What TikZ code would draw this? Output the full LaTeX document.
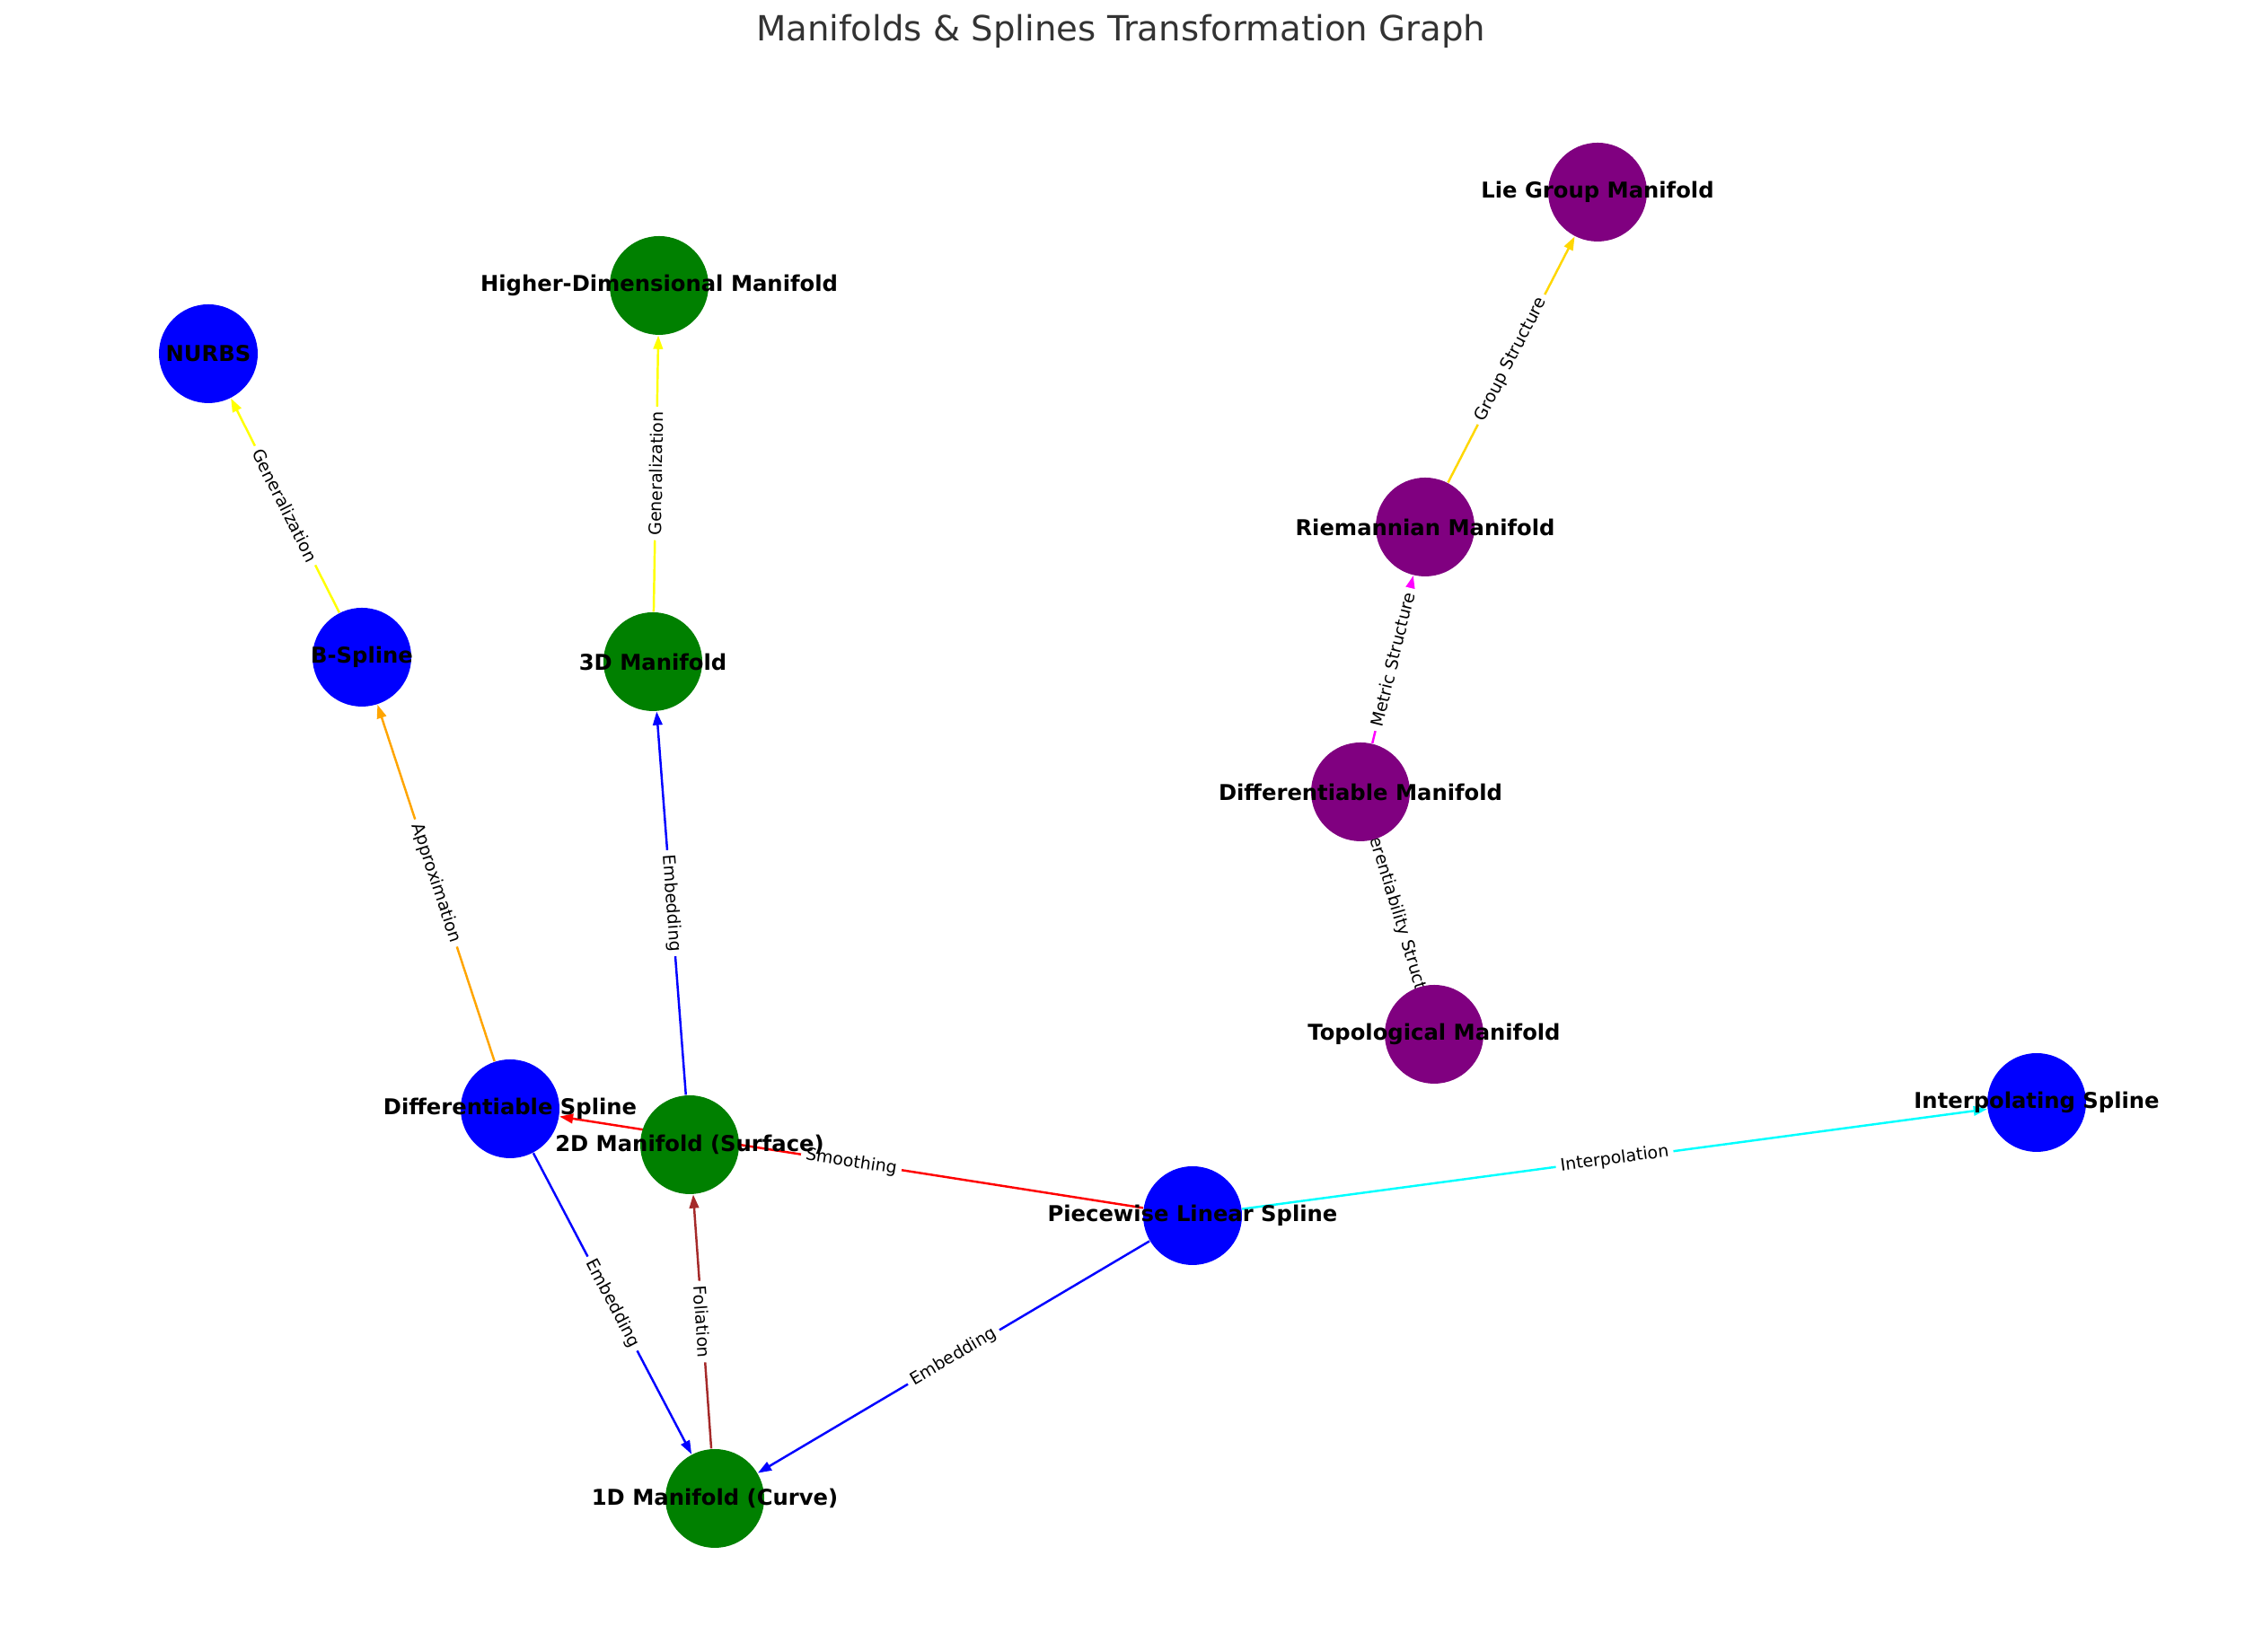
\documentclass[tikz,border=0pt]{standalone}
\usepackage{fontspec}
\setmainfont{DejaVu Sans}
\usetikzlibrary{arrows.meta}
\definecolor{nblue}{HTML}{0000FF}
\definecolor{ngreen}{HTML}{008000}
\definecolor{npurple}{HTML}{800080}
\definecolor{eyellow}{HTML}{FFFF00}
\definecolor{egold}{HTML}{FFD700}
\definecolor{emagenta}{HTML}{FF00FF}
\definecolor{eorange}{HTML}{FFA500}
\definecolor{ered}{HTML}{FF0000}
\definecolor{ecyan}{HTML}{00FFFF}
\definecolor{ebrown}{HTML}{A52A2A}
\definecolor{titlegray}{HTML}{333333}
\pgfdeclarelayer{edges}
\pgfsetlayers{edges,main}

\begin{document}
\begin{tikzpicture}[
  vertex/.style={circle, inner sep=0pt, minimum size=1.1cm},
  every label/.style={inner sep=0pt, text=black, font=\fontsize{6.9}{8}\selectfont\bfseries},
  link/.style={-{Triangle[length=4.3pt,width=3pt]}, line width=0.7pt},
  elabel/.style={midway, sloped, fill=white, inner sep=1.5pt, rounded corners=1pt, text=black, font=\fontsize{5.4}{6.5}\selectfont}
]
\useasboundingbox (0,0) rectangle (25,18.4);
\node[text=titlegray, font=\fontsize{11}{13}\selectfont] (Transformation graphTitle) at (12.48,18.05) {Manifolds \& Splines Transformation Graph};
% splines
\node[vertex, fill=nblue, label=center:{NURBS}] (Transformation graphNNURBS) at (2.32,14.46) {};
\node[vertex, fill=nblue, label=center:{B-Spline}] (Transformation graphNBSpline) at (4.03,11.08) {};
\node[vertex, fill=nblue, label=center:{Differentiable Spline}] (Transformation graphNDiffSpline) at (5.68,6.05) {};
\node[vertex, fill=nblue, label=center:{Piecewise Linear Spline}] (Transformation graphNPiecewise) at (13.28,4.86) {};
\node[vertex, fill=nblue, label=center:{Interpolating Spline}] (Transformation graphNInterpolating) at (22.68,6.12) {};
% manifolds
\node[vertex, fill=ngreen, label=center:{Higher-Dimensional Manifold}] (Transformation graphNHigherDim) at (7.34,15.22) {};
\node[vertex, fill=ngreen, label=center:{3D Manifold}] (Transformation graphN3D) at (7.27,11.03) {};
\node[vertex, fill=ngreen, label=center:{2D Manifold (Surface)}] (Transformation graphN2D) at (7.68,5.65) {};
\node[vertex, fill=ngreen, label=center:{1D Manifold (Curve)}] (Transformation graphN1D) at (7.96,1.71) {};
% structures
\node[vertex, fill=npurple, label=center:{Lie Group Manifold}] (Transformation graphNLieGroup) at (17.79,16.26) {};
\node[vertex, fill=npurple, label=center:{Riemannian Manifold}] (Transformation graphNRiemannian) at (15.87,12.53) {};
\node[vertex, fill=npurple, label=center:{Differentiable Manifold}] (Transformation graphNDiffManifold) at (15.15,9.58) {};
\node[vertex, fill=npurple, label=center:{Topological Manifold}] (Transformation graphNTopological) at (15.97,6.88) {};
\begin{pgfonlayer}{edges}
\draw[link, draw=eyellow] (Transformation graphNBSpline) -- node[elabel] {Generalization} (Transformation graphNNURBS);
\draw[link, draw=eyellow] (Transformation graphN3D) -- node[elabel] {Generalization} (Transformation graphNHigherDim);
\draw[link, draw=eorange] (Transformation graphNDiffSpline) -- node[elabel] {Approximation} (Transformation graphNBSpline);
\draw[link, draw=nblue] (Transformation graphN2D) -- node[elabel] {Embedding} (Transformation graphN3D);
\draw[link, draw=nblue] (Transformation graphNDiffSpline) -- node[elabel] {Embedding} (Transformation graphN1D);
\draw[link, draw=nblue] (Transformation graphNPiecewise) -- node[elabel] {Embedding} (Transformation graphN1D);
\draw[link, draw=ebrown] (Transformation graphN1D) -- node[elabel] {Foliation} (Transformation graphN2D);
\draw[link, draw=ered] (Transformation graphNPiecewise) -- node[elabel] {Smoothing} (Transformation graphNDiffSpline);
\draw[link, draw=ecyan] (Transformation graphNPiecewise) -- node[elabel] {Interpolation} (Transformation graphNInterpolating);
\draw[link, draw=npurple] (Transformation graphNTopological) -- node[elabel] {Differentiability Structure} (Transformation graphNDiffManifold);
\draw[link, draw=emagenta] (Transformation graphNDiffManifold) -- node[elabel] {Metric Structure} (Transformation graphNRiemannian);
\draw[link, draw=egold] (Transformation graphNRiemannian) -- node[elabel] {Group Structure} (Transformation graphNLieGroup);
\end{pgfonlayer}
\end{tikzpicture}
\end{document}
